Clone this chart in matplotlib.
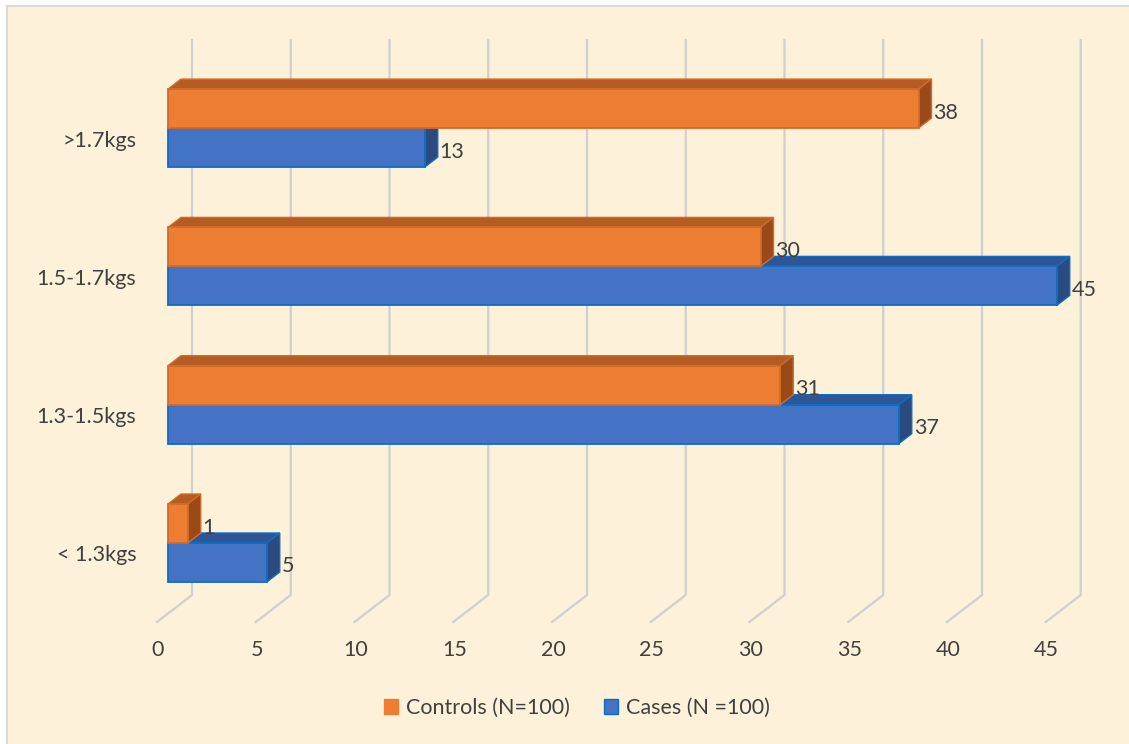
import matplotlib.pyplot as plt
from matplotlib.patches import Polygon, Rectangle, Patch

# datos
categories = ['< 1.3kgs', '1.3-1.5kgs', '1.5-1.7kgs', '>1.7kgs']
controls = [1, 31, 30, 38]
cases = [5, 37, 45, 13]
ticks = [0, 5, 10, 15, 20, 25, 30, 35, 40, 45]

plt.rcParams['font.family'] = ['Lato', 'DejaVu Sans']
FS = 15.5
TXT = '#404040'

W, H = 1129, 744
fig = plt.figure(figsize=(W / 100, H / 100), dpi=100)
fig.patch.set_facecolor('white')

# fondo del area del grafico
bg = fig.add_axes([0, 0, 1, 1])
bg.set_xlim(0, W)
bg.set_ylim(H, 0)
bg.axis('off')
bg.add_patch(Rectangle((7, 6), W, H, facecolor='#FDF2D9', edgecolor='#D4D4D4', lw=1.2))

# escala: x en valores, y en indice de categoria
px_per_x = 19.75
px_per_y = 138.3
x0_px, y0_px = 168, 543
left_px, right_px, top_px, bot_px = 100, 1120, 20, 680
ax = fig.add_axes([left_px / W, (H - bot_px) / H, (right_px - left_px) / W, (bot_px - top_px) / H])
ax.set_xlim((left_px - x0_px) / px_per_x, (right_px - x0_px) / px_per_x)
ax.set_ylim((y0_px - bot_px) / px_per_y, (y0_px - top_px) / px_per_y)
ax.axis('off')

dx = 13 / px_per_x   # profundidad 3d
dy = 10 / px_per_y
bar_h = 39 / px_per_y
lab_shift = 4 / px_per_y

# lineas de la cuadricula (pared trasera + piso)
back_dx = 24 / px_per_x
floor_dx = -11 / px_per_x
y_top = (y0_px - 40) / px_per_y
y_wall = (y0_px - 595) / px_per_y
y_floor = (y0_px - 622) / px_per_y
for t in ticks:
    ax.plot([t + back_dx, t + back_dx, t + floor_dx], [y_top, y_wall, y_floor],
            color='#CFCFCF', lw=1.6, solid_joinstyle='miter', zorder=1)
    ax.text(t + floor_dx + 0.05, (y0_px - 650) / px_per_y, str(t), ha='center', va='center',
            fontsize=FS, color=TXT)


def bar3d(y, v, front, top, side, edge):
    ax.add_patch(Polygon([(0, y + bar_h), (dx, y + bar_h + dy), (v + dx, y + bar_h + dy), (v, y + bar_h)],
                         facecolor=top, edgecolor=edge, lw=1, zorder=3))
    ax.add_patch(Polygon([(v, y), (v + dx, y + dy), (v + dx, y + bar_h + dy), (v, y + bar_h)],
                         facecolor=side, edgecolor=edge, lw=1, zorder=3))
    ax.add_patch(Rectangle((0, y), v, bar_h, facecolor=front, edgecolor=edge, lw=1.3, zorder=3))
    ax.text(v + dx + 0.1, y + bar_h / 2 - lab_shift, str(v), ha='left', va='center',
            fontsize=FS, color=TXT, zorder=4)


for i, cat in enumerate(categories):
    bar3d(i - bar_h, cases[i], '#4472C4', '#2F5597', '#2B4A80', '#0B6EC5')
    bar3d(i, controls[i], '#ED7D31', '#B45C22', '#9A4A19', '#D06C2B')
    ax.text(-1.6, i - 0.09, cat, ha='right', va='center', fontsize=FS, color=TXT)

handles = [Patch(facecolor='#ED7D31', edgecolor='#ED7D31', label='Controls (N=100)'),
           Patch(facecolor='#4472C4', edgecolor='#0B6EC5', label='Cases (N =100)')]
fig.legend(handles=handles, loc='center', bbox_to_anchor=(577 / W, 1 - 708 / H), ncol=2,
           frameon=False, fontsize=FS, handlelength=0.65, handleheight=0.65,
           handletextpad=0.35, columnspacing=1.6, labelcolor=TXT)

fig.savefig('out.png', dpi=100, facecolor=fig.get_facecolor())
